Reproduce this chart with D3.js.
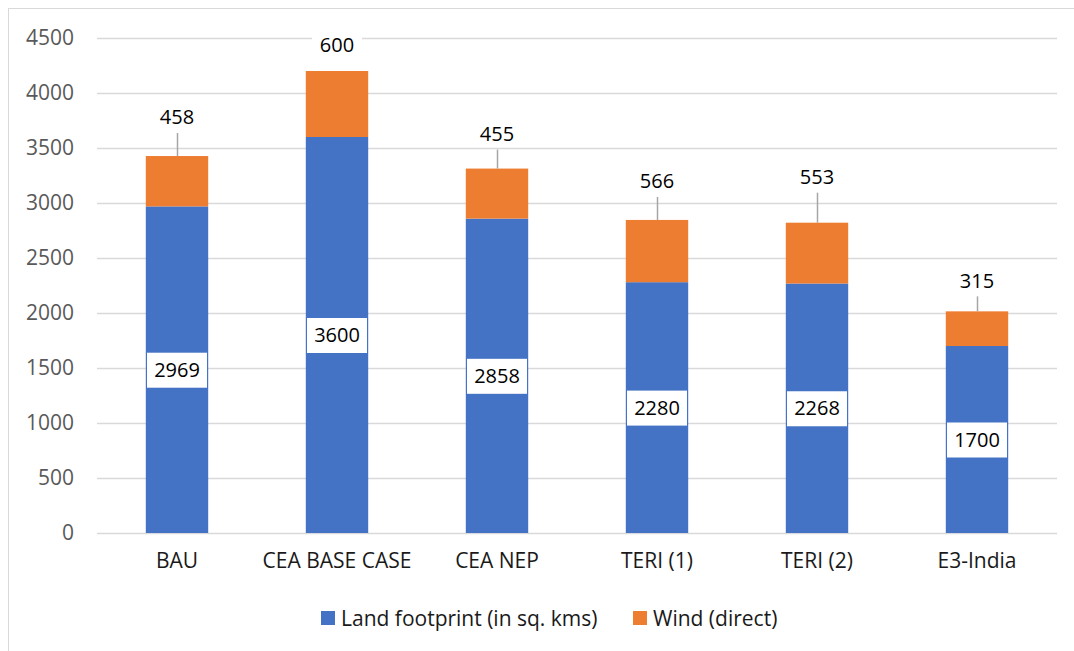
<!DOCTYPE html>
<html>
<head>
<meta charset="utf-8">
<script src="https://cdn.jsdelivr.net/npm/d3@7"></script>
<style>
  html, body { margin: 0; padding: 0; background: #fff; }
  svg { display: block; }
  svg text { font-family: "Open Sans", "Noto Sans", sans-serif; }
</style>
</head>
<body>
<svg id="chart" width="1074" height="651"></svg>
<script>
const categories = ["BAU", "CEA BASE CASE", "CEA NEP", "TERI (1)", "TERI (2)", "E3-India"];
const landFootprint = [2969, 3600, 2858, 2280, 2268, 1700];
const windDirect = [458, 600, 455, 566, 553, 315];
const yTicks = [0, 500, 1000, 1500, 2000, 2500, 3000, 3500, 4000, 4500];
const seriesNames = ["Land footprint (in sq. kms)", "Wind (direct)"];
// distance (px) of each wind label above its bar top (annotation layout)
const windLabelLift = [39, 26, 35, 39, 46, 31];

const colors = ["#4472C4", "#ED7D31"];
const svg = d3.select("#chart");
const W = 1074, H = 651;

// outer frame
svg.append("rect").attr("x", 8.5).attr("y", 8.5).attr("width", W + 20).attr("height", H + 20)
  .attr("fill", "#fff").attr("stroke", "#d9d9d9").attr("stroke-width", 1);

const m = { left: 97, right: 1057, top: 38, bottom: 533 };
const x = d3.scaleBand().domain(categories).range([m.left, m.right]).paddingInner(0.61).paddingOuter(0.305);
const y = d3.scaleLinear().domain([0, 4500]).range([m.bottom, m.top]);

// gridlines
svg.append("g").selectAll("line").data(yTicks).join("line")
  .attr("x1", m.left).attr("x2", m.right)
  .attr("y1", d => Math.round(y(d)) + 0.5).attr("y2", d => Math.round(y(d)) + 0.5)
  .attr("stroke", "#d9d9d9").attr("stroke-width", 1.3);

// y axis
const yAxis = svg.append("g").attr("transform", `translate(${m.left},0)`)
  .call(d3.axisLeft(y).tickValues(yTicks).tickFormat(d3.format("d")).tickSize(0).tickPadding(23));
yAxis.attr("font-family", null);
yAxis.select(".domain").remove();
yAxis.selectAll("text").attr("fill", "#595959").style("font-size", "21px");

// x axis
const xAxis = svg.append("g").attr("transform", `translate(0,${m.bottom})`)
  .call(d3.axisBottom(x).tickSize(0).tickPadding(20));
xAxis.attr("font-family", null);
xAxis.select(".domain").remove();
xAxis.selectAll("text").attr("fill", "#1a1a1a").style("font-size", "21px");

// stacked data
const rows = categories.map((c, i) => ({ cat: c, land: landFootprint[i], wind: windDirect[i] }));
const stack = d3.stack().keys(["land", "wind"])(rows);

svg.append("g").selectAll("g").data(stack).join("g")
  .attr("fill", (d, i) => colors[i])
  .selectAll("rect").data(d => d).join("rect")
  .attr("x", d => x(d.data.cat))
  .attr("width", x.bandwidth())
  .attr("y", d => y(d[1]))
  .attr("height", d => y(d[0]) - y(d[1]));

// land labels (white boxes centred in blue segment)
const landLbl = svg.append("g").selectAll("g").data(rows).join("g")
  .attr("transform", d => `translate(${x(d.cat) + x.bandwidth() / 2},${y(d.land / 2)})`);
landLbl.append("rect").attr("x", -30).attr("y", -17).attr("width", 60).attr("height", 35).attr("fill", "#fff");
landLbl.append("text").attr("text-anchor", "middle").attr("dy", "0.36em")
  .style("font-size", "20px").attr("fill", "#000").text(d => d.land);

// wind labels with leader lines
const windLbl = svg.append("g").selectAll("g").data(rows).join("g");
windLbl.filter((d, i) => windLabelLift[i] > 30).append("line")
  .attr("x1", d => x(d.cat) + x.bandwidth() / 2 + 0.5)
  .attr("x2", d => x(d.cat) + x.bandwidth() / 2 + 0.5)
  .attr("y1", d => y(d.land + d.wind))
  .attr("y2", d => y(d.land + d.wind) - windLabelLift[rows.indexOf(d)] + 16)
  .attr("stroke", "#a6a6a6").attr("stroke-width", 1.5);
windLbl.append("rect")
  .attr("x", d => x(d.cat) + x.bandwidth() / 2 - 25)
  .attr("y", (d, i) => y(d.land + d.wind) - windLabelLift[i] - 13)
  .attr("width", 50).attr("height", 26).attr("fill", "#fff");
windLbl.append("text").attr("text-anchor", "middle")
  .attr("x", d => x(d.cat) + x.bandwidth() / 2)
  .attr("y", (d, i) => y(d.land + d.wind) - windLabelLift[i])
  .attr("dy", "0.36em").style("font-size", "20px").attr("fill", "#000").text(d => d.wind);

// legend
const legend = svg.append("g").attr("transform", "translate(0,618)");
const legendX = [321, 633];
seriesNames.forEach((name, i) => {
  legend.append("rect").attr("x", legendX[i]).attr("y", -7).attr("width", 14).attr("height", 14).attr("fill", colors[i]);
  legend.append("text").attr("x", legendX[i] + 20).attr("dy", "0.36em")
    .style("font-size", "21px").attr("fill", "#1a1a1a").text(name);
});
</script>
</body>
</html>
